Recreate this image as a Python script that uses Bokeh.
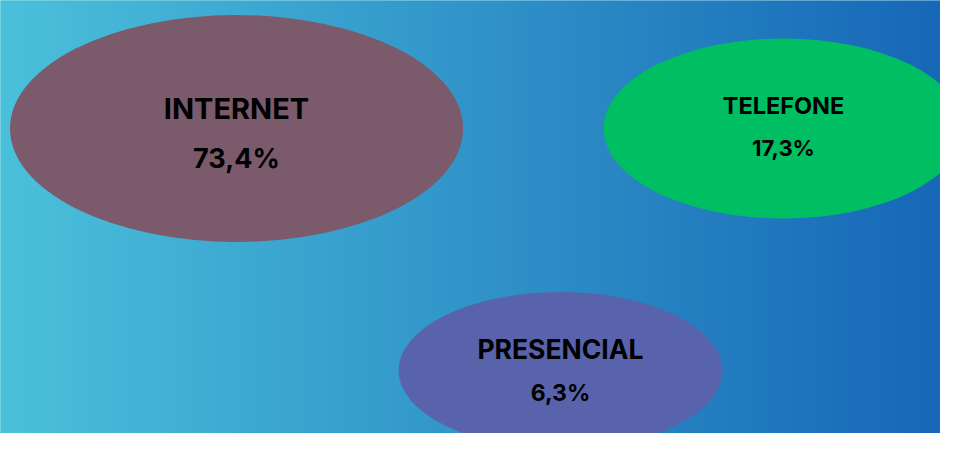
import numpy as np
from bokeh.plotting import figure
from bokeh.models import Range1d, ColumnDataSource
from bokeh.core.properties import value
from bokeh.embed import file_html
from bokeh.resources import INLINE

# ---- data ----
categories = ["INTERNET", "TELEFONE", "PRESENCIAL"]
shares = [73.4, 17.3, 6.3]
share_labels = [f"{v:.1f}".replace(".", ",") + "%" for v in shares]

# ---- layout / style (reference pixel space, y downward) ----
W, H = 956, 449
PW, PH = 940, 433
centers_x = [236, 783, 560]
centers_y = [128, 128, 370]
ell_w = [453, 360, 324]
ell_h = [227, 180, 157]
ell_colors = ["#7B5A6C", "#00BF63", "#5963AB"]
label_y = [108, 105, 348]
value_y = [158, 147, 392]
label_size = ["29px", "23.5px", "26.5px"]
value_size = ["27px", "22px", "23px"]

flip = lambda ys: [PH - y for y in ys]

p = figure(width=PW, height=PH, output_backend="svg", toolbar_location=None,
           x_range=Range1d(0, PW), y_range=Range1d(0, PH),
           min_border=0, outline_line_color=None)
p.axis.visible = False
p.grid.visible = False
p.border_fill_color = "#4BC1DB"
p.background_fill_color = "#4BC1DB"

# gradient background
left = np.array([75, 193, 219])
right = np.array([22, 102, 183])
n = 256
t = np.linspace(0, 1, n)[:, None]
cols = (left * (1 - t) + right * t).astype(np.uint32)
img = np.empty((1, n), dtype=np.uint32)
view = img.view(dtype=np.uint8).reshape((1, n, 4))
view[0, :, 0] = cols[:, 0]
view[0, :, 1] = cols[:, 1]
view[0, :, 2] = cols[:, 2]
view[0, :, 3] = 255
p.image_rgba(image=[img], x=-4, y=PH - H - 4, dw=W + 8, dh=H + 12)

src = ColumnDataSource(dict(
    x=centers_x, y=flip(centers_y), w=ell_w, h=ell_h, c=ell_colors,
    cat=categories, val=share_labels, ly=flip(label_y), vy=flip(value_y),
    ls=label_size, vs=value_size,
))
p.ellipse(x="x", y="y", width="w", height="h", fill_color="c", line_color=None, source=src)
p.text(x="x", y="ly", text="cat", text_font=value("Inter"), text_font_style="bold",
       text_font_size="ls", text_align="center", text_baseline="middle",
       text_color="#000000", source=src)
p.text(x="x", y="vy", text="val", text_font=value("Inter"), text_font_style="bold",
       text_font_size="vs", text_align="center", text_baseline="middle",
       text_color="#000000", source=src)

open("out.html", "w").write(file_html(p, INLINE))
